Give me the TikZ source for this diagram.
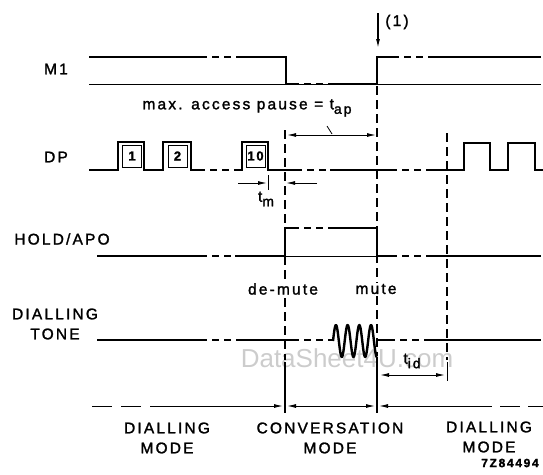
\documentclass[tikz,border=0pt]{standalone}
\usepackage{fontspec}
\setmainfont{Liberation Sans}
\newfontfamily\lblfont[LetterSpace=14, FakeBold=1.6]{Liberation Sans}
\newcommand{\lowsub}[1]{\raisebox{-0.55ex}{\fontsize{14}{14}\selectfont #1}}
\usetikzlibrary{arrows.meta}
\tikzset{
  sig/.style={line width=2.6pt, line join=miter},
  brk/.style={line width=2.6pt, dash pattern=on 7pt off 5pt},
  guide/.style={line width=1.1pt, dash pattern=on 9pt off 5pt},
  baseln/.style={line width=0.9pt},
  dimarrow/.style={line width=1pt, -{Latex[length=9pt,width=4pt]}},
  lbl/.style={font={\lblfont\fontsize{15.5}{20}\selectfont}, align=center, inner sep=1pt},
  numbox/.style={draw, line width=0.8pt, minimum width=19pt, minimum height=22pt,
    inner sep=0pt, font={\lblfont\bfseries\fontsize{13}{13}\selectfont}}
}

\begin{document}
\begin{tikzpicture}[x=1pt, y=-1pt]
    \useasboundingbox (0,0) rectangle (543,474);

    % watermark
    \node[text=gray!40, font=\fontsize{26}{26}\selectfont] (wm) at (347,358) {DataSheet4U.com};

    % time guides
    \draw[guide] (285,130) -- (285,360);
    \draw[guide] (377,86) -- (377,356);
    \draw[guide] (447,133) -- (447,360);

    % M1
    \draw[baseln] (89,84) -- (541,84);
    \draw[sig] (89,57) -- (200,57);
    \draw[brk] (200,57) -- (237,57);
    \draw[sig] (237,57) -- (286,57) -- (286,84) -- (292,84);
    \draw[brk] (292,84) -- (330,84);
    \draw[sig] (330,84) -- (377,84) -- (377,57) -- (392,57);
    \draw[brk] (392,57) -- (430,57);
    \draw[sig] (430,57) -- (541,57);
    \draw[line width=1.2pt, -{Latex[length=9pt,width=4pt]}] (378,13) -- (378,48);
    \node[lbl] (note) at (397,22) {(1)};

    % DP
    \draw[sig] (89,170) -- (118,170) -- (118,142) -- (144,142) -- (144,170)
        -- (163,170) -- (163,142) -- (191,142) -- (191,170) -- (198,170);
    \draw[brk] (198,170) -- (236,170);
    \draw[sig] (236,170) -- (242,170) -- (242,142) -- (268,142) -- (268,170) -- (295,170);
    \draw[brk] (295,170) -- (330,170);
    \draw[sig] (330,170) -- (390,170);
    \draw[brk] (390,170) -- (428,170);
    \draw[sig] (428,170) -- (464,170) -- (464,143) -- (490,143) -- (490,170)
        -- (508,170) -- (508,143) -- (535,143) -- (535,170) -- (543,170);
    \node[numbox] (p1) at (132,156) {1};
    \node[numbox] (p2) at (177.5,156) {2};
    \node[numbox] (p10) at (255.5,156) {10};

    % access pause
    \node[lbl] (tap) at (247,108) {max. access pause = t\lowsub{ap}};
    \draw[line width=1pt, {Latex[length=9pt,width=4pt]}-{Latex[length=9pt,width=4pt]}]
        (287,135) -- (376,135);
    \draw[line width=0.8pt] (327,126) -- (332,134);

    % t_m
    \draw[line width=1pt] (268,175) -- (268,190);
    \draw[dimarrow] (238,183) -- (267,183);
    \draw[dimarrow] (317,183) -- (286,183);
    \node[lbl] (tm) at (266,199) {t\lowsub{m}};

    % HOLD/APO
    \draw[baseln] (285,256) -- (377,256);
    \draw[sig] (97,256) -- (200,256);
    \draw[brk] (200,256) -- (235,256);
    \draw[sig] (235,256) -- (285,256) -- (285,228) -- (292,228);
    \draw[brk] (292,228) -- (330,228);
    \draw[sig] (330,228) -- (377,228) -- (377,256) -- (390,256);
    \draw[brk] (390,256) -- (430,256);
    \draw[sig] (430,256) -- (541,256);
    \node[lbl, fill=white] (demute) at (283,289) {de-mute};
    \node[lbl, fill=white] (mute) at (376,289) {mute};

    % dialling tone
    \draw[sig] (97,340) -- (200,340);
    \draw[brk] (200,340) -- (238,340);
    \draw[sig] (238,340) -- (292,340);
    \draw[brk] (292,340) -- (330,340);
    \draw[sig] (330,340) -- (333,340);
    \draw[line width=2.4pt, line join=round] plot[domain=0:3.75, samples=120]
        ({333+\x*11.7}, {341-16*sin(\x*360)});
    \draw[sig] (377,340) -- (388,340);
    \draw[brk] (388,340) -- (428,340);
    \draw[sig] (428,340) -- (541,340);

    % t_id
    \draw[line width=1pt] (447,362) -- (447,381);
    \draw[line width=1pt, {Latex[length=9pt,width=4pt]}-{Latex[length=9pt,width=4pt]}]
        (380,375) -- (445,375);
    \node[lbl] (tid) at (412,361) {t\lowsub{id}};

    % modes
    \draw[line width=1.2pt] (285,362) -- (285,413);
    \draw[line width=1.2pt] (377,357) -- (377,413);
    \draw[line width=1pt, dash pattern=on 20pt off 9pt] (92,406) -- (168,406);
    \draw[dimarrow] (168,406) -- (283,406);
    \draw[line width=1pt, {Latex[length=9pt,width=4pt]}-{Latex[length=9pt,width=4pt]}]
        (287,406) -- (375,406);
    \draw[line width=1pt, {Latex[length=9pt,width=4pt]}-] (379,406) -- (492,406);
    \draw[line width=1pt, dash pattern=on 20pt off 8pt] (500,406) -- (543,406);

    % labels
    \node[lbl] (m1) at (56,69) {M1};
    \node[lbl] (dp) at (56,157) {DP};
    \node[lbl] (hold) at (62,239) {HOLD/APO};
    \node[lbl] (tone) at (55,324) {DIALLING\\TONE};
    \node[lbl] (dial1) at (167,438) {DIALLING\\MODE};
    \node[lbl] (conv) at (330,438) {CONVERSATION\\MODE};
    \node[lbl] (dial2) at (489,437) {DIALLING\\MODE};
    \node[font={\lblfont\bfseries\fontsize{12}{12}\selectfont}] (ref) at (510,463) {7Z84494};
\end{tikzpicture}
\end{document}
